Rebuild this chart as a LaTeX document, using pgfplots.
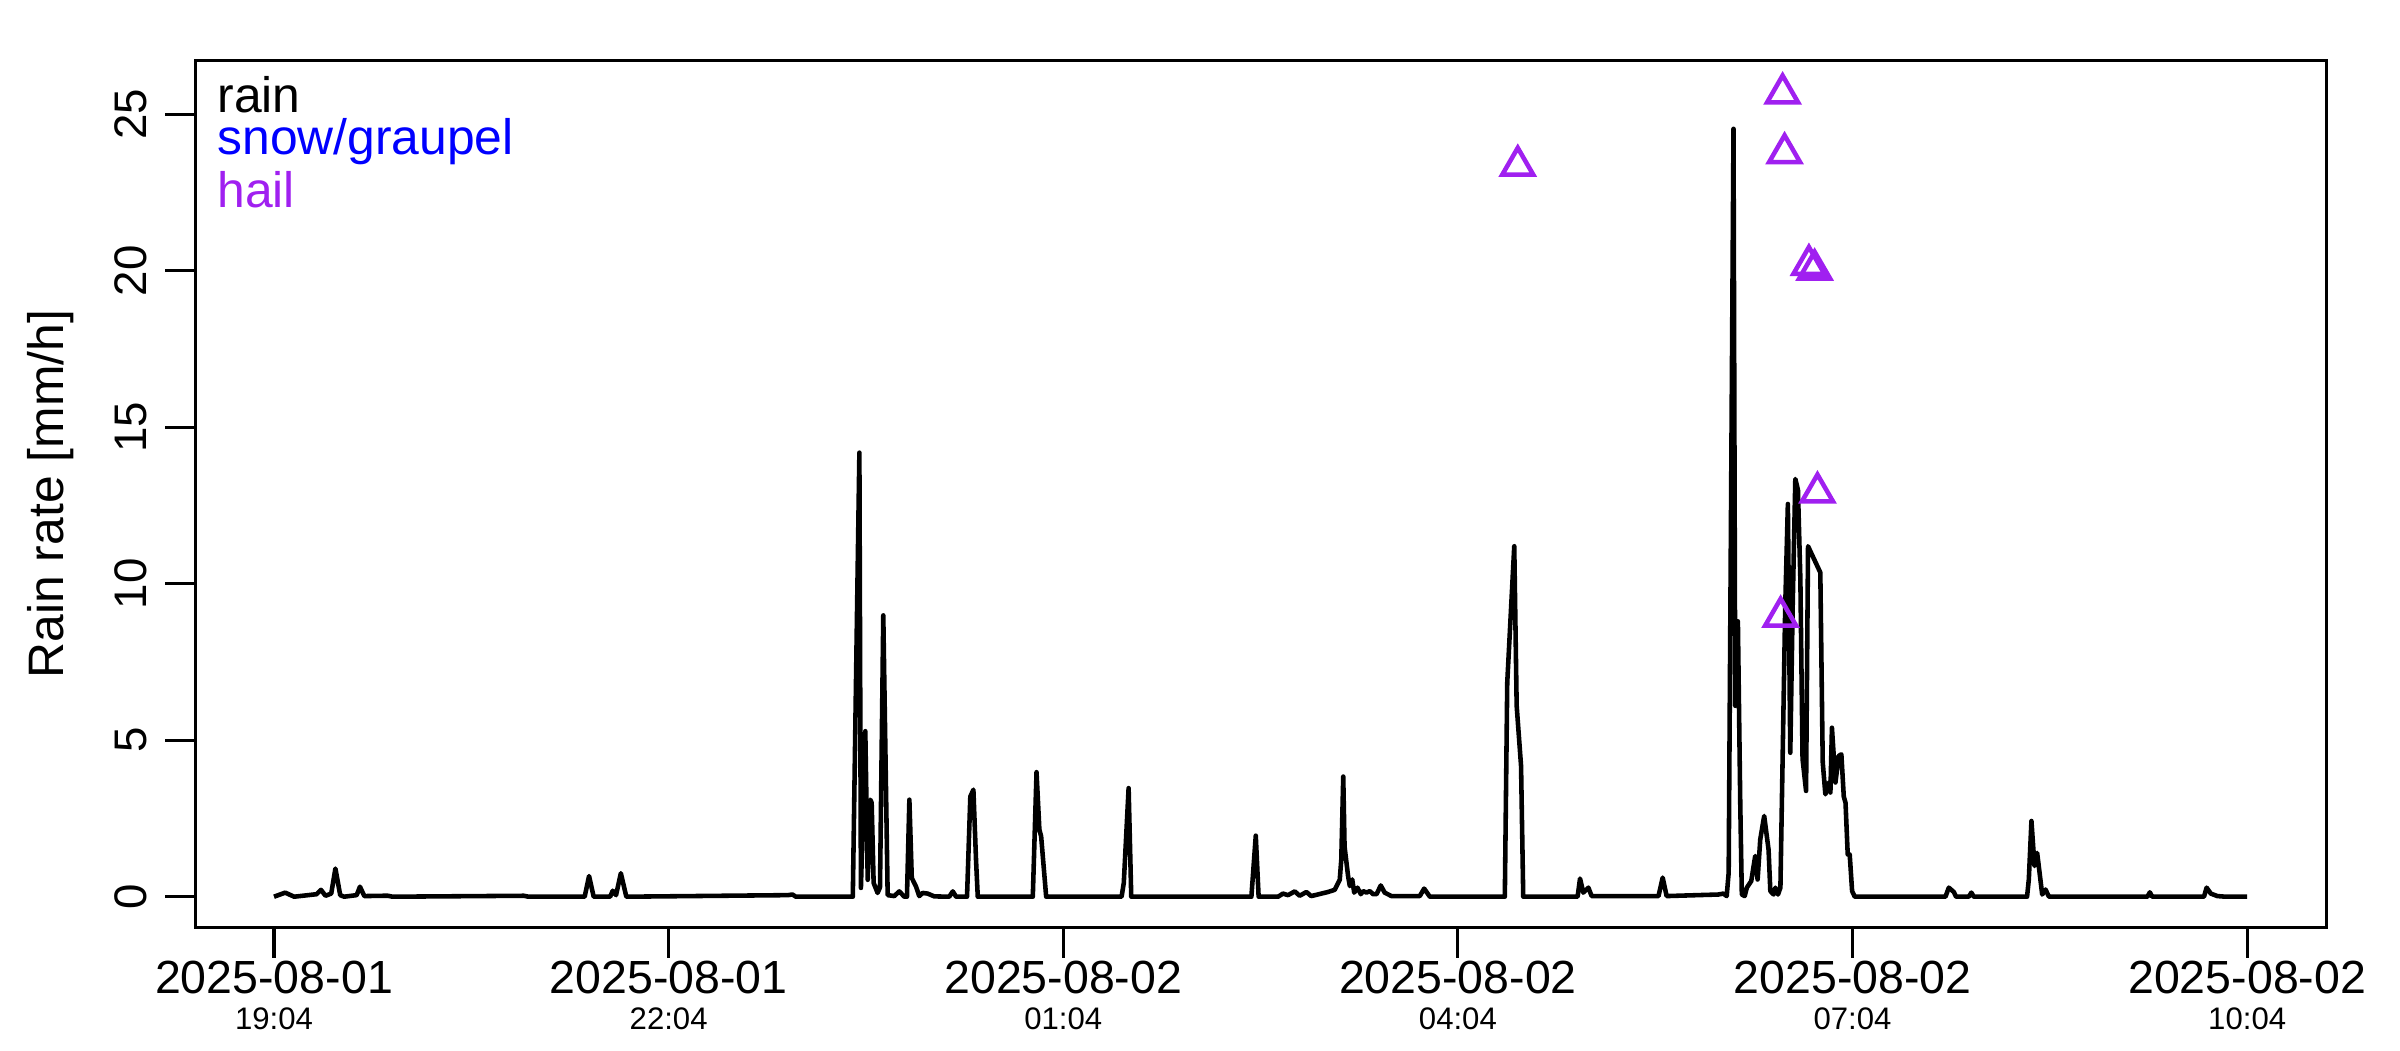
\documentclass[border=0pt]{standalone}
\usepackage{pgfplots}
\pgfplotsset{compat=1.18}
\usepackage{pgfplotstable}
\usepackage{fontspec}
\setmainfont{Liberation Sans}
\definecolor{rpurple}{RGB}{160,32,240}
\definecolor{rblue}{RGB}{0,0,255}

\pgfplotstableread{
t v
0 0
5.1 0.13
9.2 0
19.4 0.08
21.4 0.22
23.5 0.03
26.1 0.1
28.0 0.9
30.2 0.05
32 0
37.7 0.05
39.2 0.32
41.2 0.02
50 0.03
52 0.03
54 0
114 0.03
116 0
141.7 0
143.7 0.66
145.8 0
153.3 0
154.5 0.19
156.0 0.05
158.2 0.75
160.7 0
234.4 0.05
236.5 0.07
238 0
264.0 0
267.0 14.19
267.7 0.28
269.7 5.29
270.8 0.54
272.0 3.1
272.6 3.0
273.5 0.44
275.3 0.12
276.4 0.3
277.9 8.99
279.9 0.05
282.9 0.02
285.2 0.17
287.5 0
288.7 0
289.8 3.1
290.9 0.6
292.8 0.33
294.3 0.02
295.9 0.12
298.1 0.1
301.2 0.01
308.0 0
309.6 0.17
311.1 0
316.1 0
317.6 3.2
319.0 3.42
320.2 1.18
321.0 0
346.1 0
347.8 3.98
349.1 2.14
349.9 1.93
352.2 0
386.6 0
387.6 0.44
389.8 3.47
391.0 0
445.8 0
447.8 1.95
449.1 0
458.0 0
460.2 0.1
462.5 0.05
465.6 0.17
467.8 0.03
470.9 0.15
473.1 0.02
480.7 0.15
483.8 0.22
486.1 0.54
486.8 1.18
487.7 3.84
488.3 1.6
489.9 0.66
490.7 0.34
491.8 0.55
492.7 0.13
494.2 0.29
495.7 0.08
496.8 0.18
498.3 0.13
499.8 0.18
501.3 0.08
502.9 0.08
504.8 0.36
506.6 0.13
509.7 0.02
522.6 0.02
524.6 0.26
527.2 0
561.4 0
562.5 6.84
565.7 11.2
566.8 6.1
568.8 4.18
569.8 0
594.6 0
595.7 0.58
597.2 0.13
599.5 0.29
601.0 0.02
631.5 0.02
633.4 0.61
635.2 0.02
658.8 0.07
661.1 0.1
662.6 0.02
663.5 0.77
665.7 24.54
666.5 6.1
667.7 8.8
668.8 2.9
669.5 0.07
670.8 0.02
671.8 0.29
673.8 0.5
675.6 1.3
676.7 0.55
677.9 1.83
679.7 2.58
681.7 1.5
682.5 0.18
684.0 0.07
684.8 0.29
686.0 0.07
687.1 0.29
689.3 9.3
690.5 12.55
691.6 4.6
692.7 9.3
693.9 13.35
695.1 13.0
696.2 10.15
697.2 4.4
698.8 3.38
699.7 11.2
705.3 10.36
706.4 4.3
707.6 3.27
709.1 3.65
709.9 3.33
710.6 5.4
712.2 3.65
713.7 4.5
714.9 4.55
716.0 3.2
716.8 3.0
717.8 1.35
718.7 1.35
719.8 0.18
721.0 0
762.4 0
763.9 0.29
766.2 0.15
767.2 0
773.0 0
774.2 0.13
775.3 0
799.6 0
800.4 0.55
801.6 2.42
803.0 0.98
804.2 1.4
805.3 0.77
806.5 0.07
808.0 0.23
809.6 0
854.5 0
855.6 0.14
856.7 0
880.3 0
881.5 0.29
883.4 0.1
886.4 0.02
890.2 0
900 0
}\raintable

\pgfplotstableread{
t v
567.3 23.36
687.2 8.95
688.1 25.67
689.0 23.76
700.1 20.19
702.7 20.04
704.0 12.92
}\hailtable

\newcommand\tl[2]{\makebox[0pt]{\raisebox{8.8pt}[0pt][0pt]{\fontsize{11.2}{13}\selectfont #1}}\makebox[0pt]{\fontsize{7.5}{9}\selectfont #2}}

\begin{document}
\begin{tikzpicture}
\path[use as bounding box] (-47.0pt,-29.5pt) rectangle (531.2pt,223.5pt);
\begin{axis}[
  at={(0,0)}, anchor=south west,
  scale only axis, width=513.4pt, height=208.9pt,
  xmin=-36, xmax=936, ymin=-0.99, ymax=26.72,
  axis line style={line width=0.75pt},
  every tick/.style={line width=0.75pt, black},
  tick align=outside, major tick length=7.2pt,
  tick pos=left,
  xtick={0,180,360,540,720,900},
  xticklabels={\tl{2025-08-01}{19:04},\tl{2025-08-01}{22:04},\tl{2025-08-02}{01:04},\tl{2025-08-02}{04:04},\tl{2025-08-02}{07:04},\tl{2025-08-02}{10:04}},
  xticklabel style={anchor=base, inner sep=0pt, yshift=-17.4pt},
  ytick={0,5,10,15,20,25},
  /pgf/number format/assume math mode=true,
  yticklabel style={font=\fontsize{11}{13}\selectfont, inner sep=0pt, xshift=-4.3pt, rotate=90, anchor=south},
  ylabel={Rain rate [mm/h]},
  ylabel style={font=\fontsize{12}{14}\selectfont, at={(axis description cs:-0.0563,0.5)}, anchor=south, inner sep=0pt},
  clip=false,
]
\addplot[black, line width=1.1pt, line join=round] table[x=t,y=v] {\raintable};
\addplot[only marks, mark=triangle, mark size=4.3pt, rpurple, mark options={line width=1.1pt, fill=none}] table[x=t,y=v] {\hailtable};
\end{axis}
\node[anchor=base west, inner sep=0pt, font=\fontsize{12}{14}\selectfont, text=black] at (5.2pt,196.4pt) {rain};
\node[anchor=base west, inner sep=0pt, font=\fontsize{12}{14}\selectfont, text=rblue] at (5.2pt,186.3pt) {snow/graupel};
\node[anchor=base west, inner sep=0pt, font=\fontsize{12}{14}\selectfont, text=rpurple] at (5.2pt,173.6pt) {hail};
\end{tikzpicture}
\end{document}
